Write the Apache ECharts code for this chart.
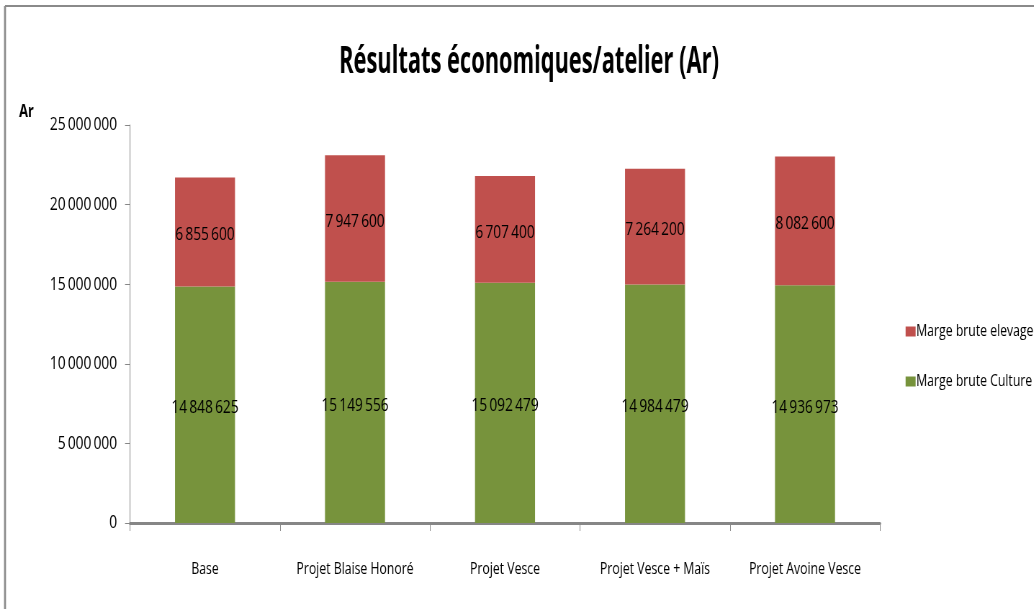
<!DOCTYPE html>
<html>
<head>
<meta charset="utf-8">
<script src="https://cdn.jsdelivr.net/npm/echarts@6/dist/echarts.min.js"></script>
<style>
  html, body { margin: 0; padding: 0; overflow: hidden; background: #fff; }
  #chart { height: 609px; transform-origin: 0 0; }
</style>
</head>
<body>
<div id="chart"></div>
<script>
// Condensed look: the chart is laid out wider and squeezed horizontally.
const SQUEEZE = 0.72;
const PAGE_W = 1034;
const W = PAGE_W / SQUEEZE;
const sx = x => x / SQUEEZE;

const categories = ['Base', 'Projet Blaise Honoré', 'Projet Vesce', 'Projet Vesce + Maïs', 'Projet Avoine Vesce'];
const margeCulture = [14848625, 15149556, 15092479, 14984479, 14936973];
const margeElevage = [6855600, 7947600, 6707400, 7264200, 8082600];
const yTicks = { min: 0, max: 25000000, interval: 5000000 };

const FONT = '"Open Sans", "Noto Sans", sans-serif';
const fmt = v => String(v).replace(/\B(?=(\d{3})+(?!\d))/g, '\u2009');

const el = document.getElementById('chart');
el.style.width = W + 'px';
el.style.transform = 'scaleX(' + SQUEEZE + ')';

const chart = echarts.init(el, null, { renderer: 'canvas', width: W, height: 609 });

const barLabel = {
  show: true,
  position: 'inside',
  offset: [0, 3],
  color: '#000',
  fontSize: 19,
  fontFamily: FONT,
  formatter: p => fmt(p.value)
};

chart.setOption({
  animation: false,
  backgroundColor: '#ffffff',
  textStyle: { fontFamily: FONT },
  legend: {
    orient: 'vertical',
    left: sx(902),
    top: 318,
    icon: 'rect',
    itemWidth: sx(10),
    itemHeight: 10,
    itemGap: 33,
    data: ['Marge brute elevage', 'Marge brute Culture'],
    textStyle: { fontFamily: FONT, fontSize: 17, color: '#000', padding: [0, 0, 0, -sx(3)] }
  },
  grid: {
    left: sx(130),
    right: PAGE_W / SQUEEZE - sx(880),
    top: 125,
    bottom: 86,
    containLabel: false
  },
  xAxis: {
    type: 'category',
    data: categories,
    boundaryGap: true,
    axisLine: { lineStyle: { color: '#868686', width: 3 } },
    axisTick: { show: true, alignWithLabel: false, length: 8, lineStyle: { color: '#868686', width: 1 } },
    axisLabel: { color: '#000', fontSize: 17, margin: 38, fontFamily: FONT, interval: 0 }
  },
  yAxis: {
    type: 'value',
    min: yTicks.min,
    max: yTicks.max,
    interval: yTicks.interval,
    splitLine: { show: false },
    axisLine: { show: true, lineStyle: { color: '#868686', width: 1 } },
    axisTick: { show: true, length: sx(5), lineStyle: { color: '#868686' } },
    axisLabel: { color: '#000', fontSize: 19, margin: sx(13), fontFamily: FONT, formatter: v => fmt(v) }
  },
  series: [
    {
      name: 'Marge brute Culture',
      type: 'bar',
      stack: 'total',
      barWidth: sx(60),
      data: margeCulture,
      itemStyle: { color: '#77933C' },
      label: barLabel
    },
    {
      name: 'Marge brute elevage',
      type: 'bar',
      stack: 'total',
      barWidth: sx(60),
      data: margeElevage,
      itemStyle: { color: '#C0504D' },
      label: barLabel
    }
  ],
  graphic: [
    {
      type: 'text',
      x: sx(529),
      y: 44,
      scaleX: 0.82,
      style: {
        text: 'Résultats économiques/atelier (Ar)',
        font: 'bold 37px ' + FONT,
        fill: '#000',
        textAlign: 'center',
        textVerticalAlign: 'top'
      }
    },
    { type: 'text', left: sx(19), top: 103, style: { text: 'Ar', font: 'bold 18px ' + FONT, fill: '#000' } },
    { type: 'line', shape: { x1: sx(5), y1: 6, x2: W, y2: 6 }, style: { stroke: '#8a8a8a', lineWidth: 2 } },
    { type: 'line', shape: { x1: sx(5), y1: 6, x2: sx(5), y2: 609 }, style: { stroke: '#8a8a8a', lineWidth: sx(2) } }
  ]
});
</script>
</body>
</html>
